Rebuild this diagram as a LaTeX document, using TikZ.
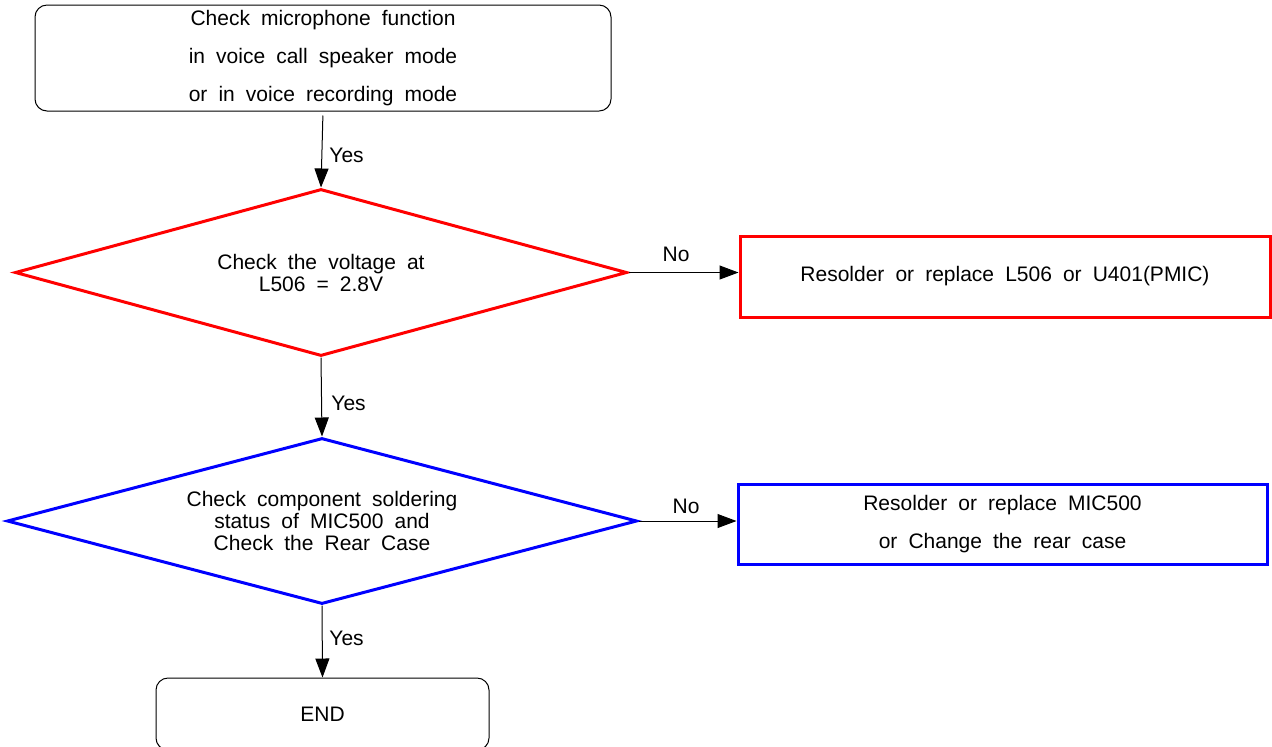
\documentclass[tikz,border=0pt]{standalone}
\usepackage{fontspec}
\setmainfont[WordSpace=1.9]{Liberation Sans}
\usetikzlibrary{shapes.geometric,arrows.meta}
\begin{document}
\begin{tikzpicture}[x=0.5pt,y=-0.5pt,
  txt/.style={font=\fontsize{10.5}{18.75}\selectfont, align=center, inner sep=0pt},
  rbox/.style={txt, draw=black, line width=0.5pt, rounded corners=6pt},
  dia/.style={diamond, font=\fontsize{10.5}{11}\selectfont, align=center, inner sep=0pt, line width=1.5pt},
  pbox/.style={txt, draw, line width=1.5pt},
  conn/.style={line width=0.5pt, -{Triangle[length=9.5pt,width=7pt]}},
  lbl/.style={font=\fontsize{10.5}{12}\selectfont, inner sep=0pt}]
\useasboundingbox (0,0) rectangle (1272,746);
\node[rbox, font=\fontsize{10.5}{19}\selectfont, minimum width=288pt, minimum height=53pt] (start) at (323,58)
  {Check microphone function\\in voice call speaker mode\\or in voice recording mode};
\node[dia, draw=red, shape aspect=3.66, minimum width=306pt, minimum height=83.5pt] (d1) at (321,272.5)
  {Check the voltage at\\L506 = 2.8V};
\node[pbox, draw=red, minimum width=265pt, minimum height=40.5pt] (r1) at (1005,276.5)
  {Resolder or replace L506 or U401(PMIC)};
\node[dia, draw=blue, shape aspect=3.8, minimum width=315pt, minimum height=83pt] (d2) at (322,521)
  {Check component soldering\\status of MIC500 and\\Check the Rear Case};
\node[pbox, draw=blue, minimum width=264.5pt, minimum height=40pt] (r2) at (1002.5,524)
  {Resolder or replace MIC500\\or Change the rear case};
\node[rbox, minimum width=166.5pt, minimum height=36pt] (fin) at (322.5,714) {END};
\draw[conn, shorten <=2pt] (start.south) -- (d1.north);
\draw[conn] (d1.east) -- (d1.east -| r1.west);
\draw[conn] (d1.south) -- (d2.north);
\draw[conn] (d2.east) -- (d2.east -| r2.west);
\draw[conn] (d2.south) -- (fin.north);
\node[lbl, anchor=west] (y1) at (329,155) {Yes};
\node[lbl, anchor=west] (y2) at (331,403) {Yes};
\node[lbl, anchor=west] (y3) at (329,638) {Yes};
\node[lbl] (n1) at (676,254) {No};
\node[lbl] (n2) at (686,506) {No};
\end{tikzpicture}
\end{document}
